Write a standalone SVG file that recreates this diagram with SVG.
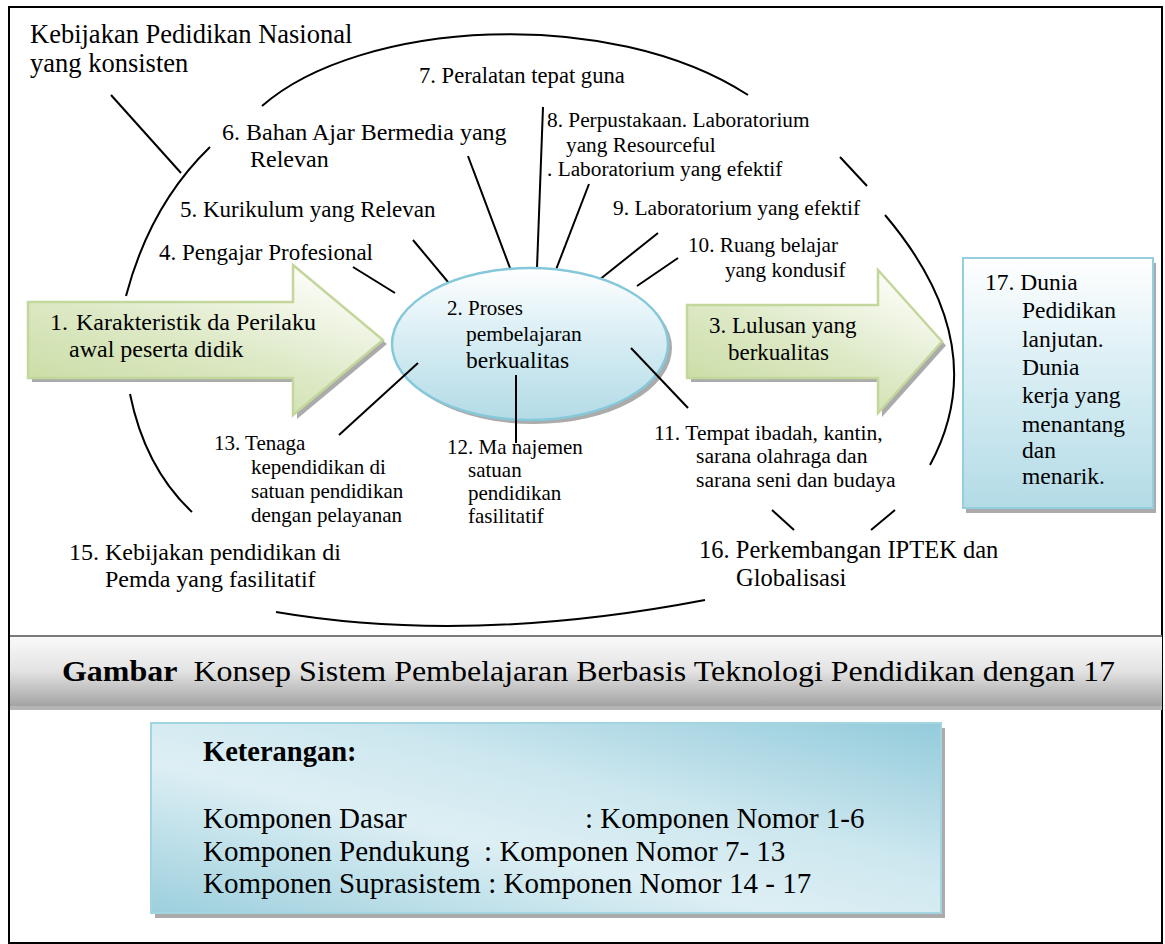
<svg xmlns="http://www.w3.org/2000/svg" width="1165" height="944" viewBox="0 0 1165 944">
<style>
.t{font-family:"Liberation Serif","Times New Roman",serif;fill:#000}
.c{stroke:#000;stroke-width:2;fill:none;stroke-linecap:butt}
.sh{fill:#8f8f8f;opacity:0.75}
.arrow{fill:url(#gGreen);stroke:#c3d69b;stroke-width:2.5}
</style>
<defs>
<linearGradient id="gGreen" x1="0" y1="1" x2="0.7" y2="0">
<stop offset="0" stop-color="#c5d99a"/>
<stop offset="0.55" stop-color="#dde9c6"/>
<stop offset="1" stop-color="#fbfcf7"/>
</linearGradient>
<linearGradient id="gBlueV" x1="0" y1="0" x2="0" y2="1">
<stop offset="0" stop-color="#ffffff"/>
<stop offset="0.45" stop-color="#d9eef4"/>
<stop offset="1" stop-color="#b3dbe6"/>
</linearGradient>
<linearGradient id="gKet" x1="0" y1="1" x2="1" y2="0">
<stop offset="0" stop-color="#9ccfdd"/>
<stop offset="0.4" stop-color="#ddeff4"/>
<stop offset="0.62" stop-color="#cde7ef"/>
<stop offset="1" stop-color="#93cbdb"/>
</linearGradient>
<linearGradient id="gBar" x1="0" y1="0" x2="0" y2="1">
<stop offset="0" stop-color="#fafafa"/>
<stop offset="0.5" stop-color="#e3e3e3"/>
<stop offset="1" stop-color="#a3a3a3"/>
</linearGradient>
</defs>

<rect x="9" y="7" width="1153" height="936" fill="#fff" stroke="#000" stroke-width="2"/>

<g id="connectors">
<path class="c" d="M262,106 C360,20 610,5 748,95"/>
<path class="c" d="M210,147 Q150,205 126,296"/>
<path class="c" d="M130,394 Q145,468 192,512"/>
<path class="c" d="M276,612 Q470,645 705,600"/>
<path class="c" d="M840,157 L867,186"/>
<path class="c" d="M885,215 Q995,345 930,465"/>
<line class="c" x1="111" y1="95" x2="181" y2="173"/>
<line class="c" x1="353" y1="267" x2="395" y2="293"/>
<line class="c" x1="413" y1="240" x2="458" y2="294"/>
<line class="c" x1="468" y1="156" x2="516" y2="284"/>
<line class="c" x1="543" y1="107" x2="537" y2="268"/>
<line class="c" x1="589" y1="184" x2="552" y2="280"/>
<line class="c" x1="658" y1="233" x2="589" y2="288"/>
<line class="c" x1="678" y1="258" x2="637" y2="286"/>
<line class="c" x1="772" y1="510" x2="794" y2="530"/>
<line class="c" x1="895" y1="510" x2="871" y2="530"/>
</g>

<g id="n1">
<polygon class="sh" points="32,306 297,306 297,269 387,344 297,419 297,382 32,382"/>
<polygon class="arrow" points="28,302 293,302 293,265 383,340 293,415 293,378 28,378"/>
<text class="t" font-size="24" x="50" y="330">1.<tspan x="76">Karakteristik da Perilaku</tspan></text>
<text class="t" font-size="24" x="69" y="357">awal peserta didik</text>
</g>

<g id="n2">
<ellipse class="sh" cx="534" cy="348" rx="138" ry="76"/>
<ellipse cx="530" cy="344" rx="138" ry="76" fill="url(#gBlueV)" stroke="#86c8da" stroke-width="2.5"/>
<text class="t" font-size="21" x="447" y="315">2. Proses</text>
<text class="t" font-size="21.5" x="466" y="341">pembelajaran</text>
<text class="t" font-size="23.5" x="466" y="368">berkualitas</text>
</g>

<g id="n2-links">
<line class="c" x1="631" y1="348" x2="688" y2="408"/>
<line class="c" x1="516" y1="375" x2="516" y2="443"/>
<line class="c" x1="418" y1="363" x2="339" y2="435"/>
</g>

<g id="n3">
<polygon class="sh" points="691,309 882,309 882,274 946,345.5 882,417 882,382 691,382"/>
<polygon class="arrow" points="687,305 878,305 878,270 942,341.5 878,413 878,378 687,378"/>
<text class="t" font-size="23" x="709" y="333">3. Lulusan yang</text>
<text class="t" font-size="23" x="728" y="360">berkualitas</text>
</g>

<g id="n17">
<rect class="sh" x="966" y="263" width="190" height="250"/>
<rect x="963" y="258" width="190" height="250" fill="url(#gBlueV)" stroke="#93cfde" stroke-width="2"/>
<text class="t" font-size="23.5" x="985" y="290">17. Dunia</text>
<text class="t" font-size="23.5" x="1022" y="318">Pedidikan</text>
<text class="t" font-size="23.5" x="1022" y="347">lanjutan.</text>
<text class="t" font-size="23.5" x="1022" y="375">Dunia</text>
<text class="t" font-size="23.5" x="1022" y="403">kerja yang</text>
<text class="t" font-size="23.5" x="1022" y="432">menantang</text>
<text class="t" font-size="23.5" x="1022" y="458">dan</text>
<text class="t" font-size="23.5" x="1022" y="484">menarik.</text>
</g>

<g id="n14">
<text class="t" font-size="26.5" x="30" y="43">Kebijakan Pedidikan Nasional</text>
<text class="t" font-size="26.5" x="30" y="72">yang konsisten</text>
</g>
<g id="n6">
<text class="t" font-size="24" x="222" y="140">6. Bahan Ajar Bermedia yang</text>
<text class="t" font-size="24" x="250" y="167">Relevan</text>
</g>
<g id="n5"><text class="t" font-size="23" x="180" y="217">5. Kurikulum yang Relevan</text></g>
<g id="n4"><text class="t" font-size="23" x="159" y="260">4. Pengajar Profesional</text></g>
<g id="n7"><text class="t" font-size="22.6" x="419" y="83">7. Peralatan tepat guna</text></g>
<g id="n8">
<text class="t" font-size="21.3" x="547" y="127">8. Perpustakaan. Laboratorium</text>
<text class="t" font-size="21.3" x="566" y="152">yang Resourceful</text>
<text class="t" font-size="21.3" x="547" y="176">. Laboratorium yang efektif</text>
</g>
<g id="n9"><text class="t" font-size="21.4" x="613" y="215">9. Laboratorium yang efektif</text></g>
<g id="n10">
<text class="t" font-size="21.2" x="688" y="252">10. Ruang belajar</text>
<text class="t" font-size="21.2" x="725" y="277">yang kondusif</text>
</g>
<g id="n11">
<text class="t" font-size="21.6" x="654" y="440">11. Tempat ibadah, kantin,</text>
<text class="t" font-size="21.6" x="696" y="463">sarana olahraga dan</text>
<text class="t" font-size="21.6" x="696" y="487">sarana seni dan budaya</text>
</g>
<g id="n12">
<text class="t" font-size="21" x="447" y="454">12. Ma najemen</text>
<text class="t" font-size="21" x="468" y="477">satuan</text>
<text class="t" font-size="21" x="468" y="500">pendidikan</text>
<text class="t" font-size="21" x="468" y="523">fasilitatif</text>
</g>
<g id="n13">
<text class="t" font-size="21" x="214" y="450">13. Tenaga</text>
<text class="t" font-size="21" x="251" y="474">kependidikan di</text>
<text class="t" font-size="21" x="251" y="498">satuan pendidikan</text>
<text class="t" font-size="21" x="251" y="522">dengan pelayanan</text>
</g>
<g id="n15">
<text class="t" font-size="24" x="69" y="560">15. Kebijakan pendidikan di</text>
<text class="t" font-size="24" x="105" y="587">Pemda yang fasilitatif</text>
</g>
<g id="n16">
<text class="t" font-size="24.5" x="699" y="558">16. Perkembangan IPTEK dan</text>
<text class="t" font-size="24.5" x="736" y="586">Globalisasi</text>
</g>

<g id="caption">
<rect x="10" y="706" width="1152" height="4" fill="#b5b5b5"/>
<rect x="10" y="636" width="1152" height="70" fill="url(#gBar)"/>
<line x1="10" y1="636" x2="1162" y2="636" stroke="#7a7a7a" stroke-width="2"/>
<text class="t" font-size="30" x="62" y="681" textLength="1053" lengthAdjust="spacingAndGlyphs" xml:space="preserve"><tspan font-weight="bold">Gambar</tspan>  Konsep Sistem Pembelajaran Berbasis Teknologi Pendidikan dengan 17</text>
</g>

<g id="legend">
<rect class="sh" x="155" y="728" width="790" height="190"/>
<rect x="151" y="723" width="790" height="190" fill="url(#gKet)" stroke="#a3d4e1" stroke-width="2"/>
<text class="t" font-size="28.5" font-weight="bold" x="203" y="761">Keterangan:</text>
<text class="t" font-size="29" x="203" y="828">Komponen Dasar</text>
<text class="t" font-size="29" x="585" y="828">: Komponen Nomor 1-6</text>
<text class="t" font-size="29" x="203" y="861" xml:space="preserve">Komponen Pendukung  : Komponen Nomor 7- 13</text>
<text class="t" font-size="29" x="203" y="893">Komponen Suprasistem : Komponen Nomor 14 - 17</text>
</g>
</svg>
